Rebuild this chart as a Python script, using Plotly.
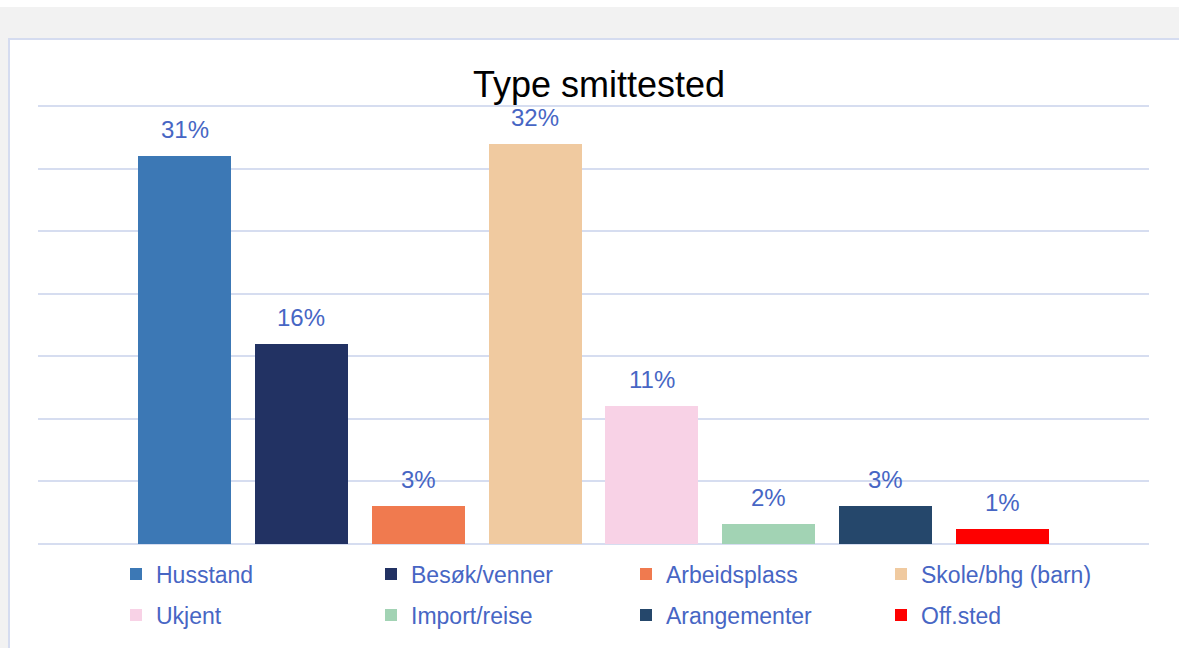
import plotly.graph_objects as go

categories = ["Husstand", "Besøk/venner", "Arbeidsplass", "Skole/bhg (barn)",
              "Ukjent", "Import/reise", "Arangementer", "Off.sted"]
values = [0.31, 0.16, 0.03, 0.32, 0.11, 0.016, 0.03, 0.012]
colors = ["#3c78b5", "#223263", "#f07a4f", "#f0caa0",
          "#f8d2e6", "#a2d3b4", "#25476b", "#fe0000"]
title_text = "Type smittested"

W, H = 1179, 648
L, R, T, B = 38, 1149, 102, 544
Y_TOP = 0.35
Y_MAX = Y_TOP * (B - T) / (544 - 106)


def px(x):
    return (x - L) / (R - L)


def py(y):
    return (B - y) / (B - T)


TEXT_COLOR = "#4766c4"
FONT = "Liberation Sans, Arial, sans-serif"

fig = go.Figure()
for i, (c, v, col) in enumerate(zip(categories, values, colors)):
    fig.add_trace(go.Bar(
        x=[i], y=[v], name=c, width=0.796,
        marker=dict(color=col, line=dict(width=0)),
        legend="legend" if i < 4 else "legend2",
        hovertemplate="%{y:.0%}<extra>" + c + "</extra>",
    ))

annotations = []
for i, v in enumerate(values):
    annotations.append(dict(
        x=i, y=v, xref="x", yref="y", text=f"{v:.0%}", showarrow=False,
        yanchor="bottom", yshift=11,
        font=dict(family=FONT, size=24, color=TEXT_COLOR),
    ))

shapes = [
    dict(type="rect", xref="paper", yref="paper", layer="below",
         x0=px(0), x1=px(W), y0=py(38), y1=py(7),
         fillcolor="#f2f2f2", line=dict(width=0)),
    dict(type="rect", xref="paper", yref="paper", layer="below",
         x0=px(0), x1=px(8), y0=py(700), y1=py(38),
         fillcolor="#f2f2f2", line=dict(width=0)),
    dict(type="rect", xref="paper", yref="paper", layer="below",
         x0=px(9), x1=px(1220), y0=py(720), y1=py(39),
         fillcolor="rgba(0,0,0,0)", line=dict(color="#d5dcf0", width=2)),
]

legend_common = dict(
    orientation="h", xanchor="left", yanchor="middle",
    font=dict(family=FONT, size=23, color=TEXT_COLOR),
    bgcolor="rgba(0,0,0,0)", entrywidth=210, entrywidthmode="pixels",
    itemclick=False, itemdoubleclick=False,
)

fig.update_layout(
    width=W, height=H,
    margin=dict(l=L, r=W - R, t=T, b=H - B, pad=0),
    paper_bgcolor="white", plot_bgcolor="rgba(0,0,0,0)",
    font=dict(family=FONT),
    title=dict(text=title_text, x=px(599), xref="paper", xanchor="center",
               y=1 - 84 / H, yref="container", yanchor="middle",
               font=dict(family=FONT, size=36, color="black")),
    xaxis=dict(range=[-1.254, len(categories) - 1 + 1.254], showticklabels=False,
               showgrid=False, zeroline=False, showline=False, ticks=""),
    yaxis=dict(range=[0, Y_MAX], tick0=0, dtick=0.05, showticklabels=False,
               showgrid=True, gridcolor="#d6ddf0", gridwidth=2,
               zeroline=True, zerolinecolor="#d6ddf0", zerolinewidth=2,
               showline=False, ticks=""),
    showlegend=True,
    legend=dict(x=px(116), y=py(574), **legend_common),
    legend2=dict(x=px(116), y=py(615), **legend_common),
    annotations=annotations,
    shapes=shapes,
    bargap=0,
)

fig.write_html("out.html", config={"displayModeBar": False},
               post_script="document.body.style.margin='0';document.body.style.padding='0';")
